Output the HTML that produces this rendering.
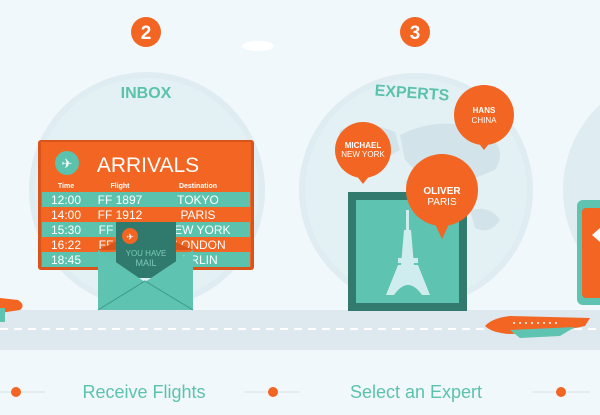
<!DOCTYPE html>
<html><head><style>
html,body{margin:0;padding:0;background:#f1f8fb;}
svg{display:block;font-family:"Liberation Sans",sans-serif;}
</style></head><body>
<svg width="600" height="415" viewBox="0 0 600 415">
<rect width="600" height="415" fill="#f1f8fb"/>
<circle cx="147" cy="190" r="118" fill="#dfecf1"/>
<circle cx="147" cy="190" r="112" fill="#e3f0f4"/>
<circle cx="416" cy="190" r="117" fill="#dfecf1"/>
<circle cx="416" cy="190" r="111" fill="#e3f0f4"/>
<circle cx="680" cy="190" r="117" fill="#dfecf1"/>
<g fill="#d2e3ea">
<path d="M340 130 Q370 120 395 132 L400 150 Q380 160 370 175 L355 170 Q335 150 340 130Z"/>
<path d="M400 135 Q440 115 480 130 Q510 145 495 170 L470 180 Q440 170 420 175 L405 160Z"/>
<path d="M470 210 Q490 205 500 220 Q490 235 475 228Z"/>
<path d="M405 180 Q420 185 425 200 L410 205Z"/>
</g>
<ellipse cx="258" cy="46" rx="16" ry="5" fill="#fff"/>
<rect x="0" y="310" width="600" height="40" fill="#dde9ee"/>
<line x1="0" y1="329" x2="600" y2="329" stroke="#fff" stroke-width="2" stroke-dasharray="8,6"/>
<circle cx="146" cy="32" r="15" fill="#f26522"/>
<text x="146" y="39" fill="#fff" font-size="19" font-weight="bold" text-anchor="middle">2</text>
<circle cx="415" cy="32" r="15" fill="#f26522"/>
<text x="415" y="39" fill="#fff" font-size="19" font-weight="bold" text-anchor="middle">3</text>
<text x="146" y="98" fill="#5bc2ad" font-size="16" font-weight="bold" text-anchor="middle">INBOX</text>
<text x="412" y="98" fill="#5bc2ad" font-size="16" font-weight="bold" text-anchor="middle" transform="rotate(4 412 92)">EXPERTS</text>
<rect x="38" y="140" width="216" height="130" rx="3" fill="#d9541a"/>
<rect x="41" y="142" width="210" height="125" fill="#f26522"/>
<circle cx="67" cy="163" r="12" fill="#5bc2ad"/>
<text x="67" y="168" fill="#fff" font-size="13" text-anchor="middle">✈</text>
<text x="148" y="172" fill="#fff" font-size="21" text-anchor="middle">ARRIVALS</text>
<g fill="#fff" font-size="7" font-weight="bold" text-anchor="middle">
<text x="66" y="188">Time</text><text x="120" y="188">Flight</text><text x="198" y="188">Destination</text></g>
<g fill="#5bc2ad"><rect x="42" y="192" width="208" height="15"/><rect x="42" y="222" width="208" height="15"/><rect x="42" y="252" width="208" height="15"/></g>
<g fill="#fff" font-size="12" text-anchor="middle">
<text x="66" y="204">12:00</text><text x="120" y="204">FF 1897</text><text x="198" y="204">TOKYO</text>
<text x="66" y="219">14:00</text><text x="120" y="219">FF 1912</text><text x="198" y="219">PARIS</text>
<text x="66" y="234">15:30</text><text x="106" y="234">FF</text><text x="198" y="234">NEW YORK</text>
<text x="66" y="249">16:22</text><text x="106" y="249">FF</text><text x="200" y="249">LONDON</text>
<text x="66" y="264">18:45</text><text x="200" y="264">ERLIN</text></g>
<polygon points="98,250 145,228 193,250" fill="#d9541a"/>
<rect x="116" y="222" width="60" height="56" fill="#2f7a6c"/>
<circle cx="130" cy="236" r="8" fill="#f26522"/>
<text x="130" y="240" fill="#fff" font-size="9" text-anchor="middle">✈</text>
<text x="146" y="256" fill="#7cc9b8" font-size="8" text-anchor="middle">YOU HAVE</text>
<text x="146" y="266" fill="#7cc9b8" font-size="9" text-anchor="middle">MAIL</text>
<polygon points="98,250 145,282 193,250 193,310 98,310" fill="#5ec3b0"/>
<polyline points="98,310 145,281 193,310" fill="none" stroke="#3f9a89" stroke-width="1"/>
<rect x="348" y="192" width="119" height="119" fill="#337a6e"/>
<rect x="356" y="200" width="103" height="103" fill="#5ec3b0"/>
<g fill="#cfecef">
<rect x="406" y="210" width="3" height="20"/>
<polygon points="404,230 411,230 414,265 401,265"/>
<rect x="398" y="258" width="20" height="5"/>
<path d="M386 295 L398 265 L418 265 L430 295 L422 295 Q408 275 394 295Z"/>
</g>
<g fill="#f26522">
<circle cx="363" cy="150" r="28"/><polygon points="356,175 370,175 363,184"/>
<circle cx="484" cy="115" r="30"/><polygon points="477,141 491,141 484,150"/>
<circle cx="442" cy="190" r="36"/><polygon points="434,222 450,222 442,239"/>
</g>
<g fill="#fff" text-anchor="middle">
<text x="363" y="148" font-size="8" font-weight="bold">MICHAEL</text><text x="363" y="157" font-size="8">NEW YORK</text>
<text x="484" y="113" font-size="8" font-weight="bold">HANS</text><text x="484" y="123" font-size="8">CHINA</text>
<text x="442" y="194" font-size="10" font-weight="bold">OLIVER</text><text x="442" y="205" font-size="10">PARIS</text>
</g>
<rect x="577" y="200" width="30" height="105" rx="6" fill="#5ec3b0"/>
<rect x="582" y="208" width="25" height="90" rx="4" fill="#f26522"/>
<polygon points="592,235 600,228 600,242" fill="#fff"/>
<path d="M485 326 Q492 318 510 316 L590 318 L585 326 Q560 332 510 334 Q492 333 485 326Z" fill="#f26522"/>
<path d="M510 330 L575 327 L560 336 L520 338Z" fill="#5ec3b0"/>
<g fill="#fff"><circle cx="514" cy="323" r="1"/><circle cx="520" cy="323" r="1"/><circle cx="526" cy="323" r="1"/><circle cx="532" cy="323" r="1"/><circle cx="538" cy="323" r="1"/><circle cx="544" cy="323" r="1"/><circle cx="550" cy="323" r="1"/><circle cx="556" cy="323" r="1"/></g>
<path d="M0 298 L18 300 Q26 305 20 310 L0 313Z" fill="#f26522"/>
<rect x="0" y="308" width="5" height="14" fill="#5ec3b0"/>
<g stroke="#d8e2e6" stroke-width="1"><line x1="0" y1="392" x2="45" y2="392"/><line x1="244" y1="392" x2="300" y2="392"/><line x1="532" y1="392" x2="590" y2="392"/></g>
<g fill="#f26522"><circle cx="16" cy="392" r="5"/><circle cx="273" cy="392" r="5"/><circle cx="561" cy="392" r="5"/></g>
<text x="144" y="398" fill="#5bc2ad" font-size="18" text-anchor="middle">Receive Flights</text>
<text x="416" y="398" fill="#5bc2ad" font-size="18" text-anchor="middle">Select an Expert</text>
</svg>
</body></html>
